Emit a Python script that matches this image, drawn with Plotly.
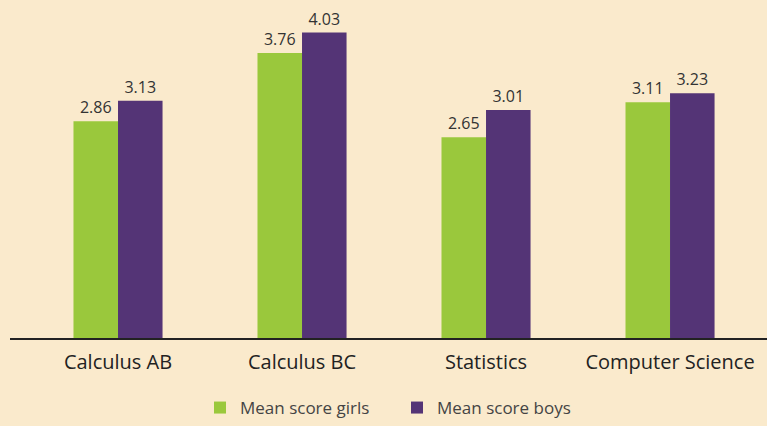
import plotly.graph_objects as go

categories = ["Calculus AB", "Calculus BC", "Statistics", "Computer Science"]
girls = [2.86, 3.76, 2.65, 3.11]
boys = [3.13, 4.03, 3.01, 3.23]

BG = "#FAEACC"
FONT = "Open Sans, Noto Sans, sans-serif"

fig = go.Figure()
fig.add_trace(go.Bar(
    x=categories, y=girls, name="Mean score girls",
    marker=dict(color="#9AC83C", line=dict(width=0)),
    text=[f"{v:.2f}" for v in girls], textposition="outside",
    textfont=dict(size=16, color="#333333", family=FONT), cliponaxis=False,
))
fig.add_trace(go.Bar(
    x=categories, y=boys, name="Mean score boys",
    marker=dict(color="#543476", line=dict(width=0)),
    text=[f"{v:.2f}" for v in boys], textposition="outside",
    textfont=dict(size=16, color="#333333", family=FONT), cliponaxis=False,
))

fig.update_layout(
    width=767, height=426,
    paper_bgcolor=BG, plot_bgcolor=BG,
    margin=dict(l=10, r=0, t=0, b=85),
    barmode="group", bargap=0.516, bargroupgap=0,
    font=dict(family=FONT, color="#333333"),
    showlegend=True,
    legend=dict(orientation="h", x=0.251, xanchor="left", y=-0.155, yanchor="top",
                font=dict(size=17, color="#444444"), bgcolor="rgba(0,0,0,0)",
                entrywidth=152, entrywidthmode="pixels", tracegroupgap=0),
    uniformtext=dict(mode="show", minsize=10),
)
fig.update_xaxes(
    range=[-0.587, 3.527], showline=True, linecolor="#222222", linewidth=2,
    ticks="", ticklabelstandoff=5, tickfont=dict(size=20, color="#222222", family=FONT),
    showgrid=False, zeroline=False, fixedrange=True,
)
fig.update_yaxes(
    range=[0, 4.46], visible=False, showgrid=False, zeroline=False, fixedrange=True,
)

fig.write_html("out.html", config={"displayModeBar": False},
               post_script="document.body.style.margin='0';document.body.style.background='%s';" % BG)
